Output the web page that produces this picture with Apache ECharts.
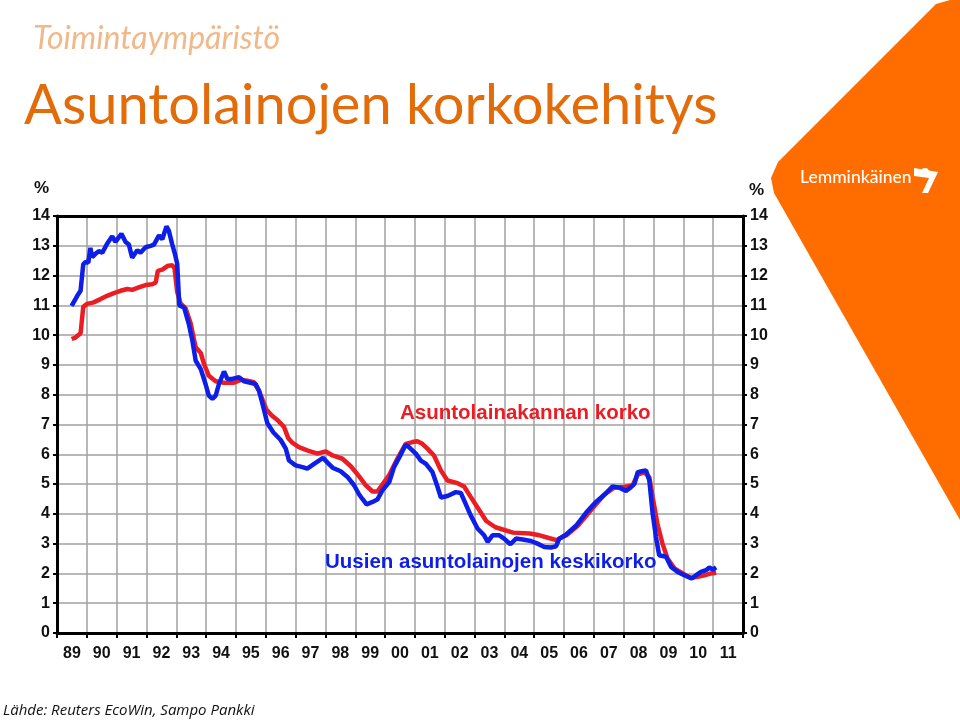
<!DOCTYPE html>
<html>
<head>
<meta charset="utf-8">
<script src="https://cdn.jsdelivr.net/npm/echarts@6/dist/echarts.min.js"></script>
<style>
  html, body { margin: 0; padding: 0; background: #fff; }
  #chart { width: 960px; height: 721px; }
</style>
</head>
<body>
<div id="chart"></div>
<script>
// vuodet x-akselilla (89 ... 11)
const yearLabels = ['89', '90', '91', '92', '93', '94', '95', '96', '97', '98', '99', '00',
    '01', '02', '03', '04', '05', '06', '07', '08', '09', '10', '11'];
const yTicks = [0, 1, 2, 3, 4, 5, 6, 7, 8, 9, 10, 11, 12, 13, 14];

// Asuntolainakannan korko [vuosi, %]
const stockRate = [
    [1989.49, 9.87], [1989.62, 9.92], [1989.79, 10.06], [1989.88, 10.95], [1990.01, 11.05],
    [1990.23, 11.10], [1990.46, 11.21], [1990.68, 11.32], [1990.91, 11.41], [1991.13, 11.49],
    [1991.36, 11.55], [1991.52, 11.52], [1991.74, 11.60], [1991.97, 11.68], [1992.19, 11.71],
    [1992.31, 11.77], [1992.38, 12.16], [1992.53, 12.20], [1992.70, 12.32], [1992.86, 12.35],
    [1992.94, 12.25], [1993.03, 11.45], [1993.14, 11.07], [1993.31, 10.90], [1993.48, 10.40],
    [1993.65, 9.59], [1993.82, 9.40], [1993.93, 9.03], [1994.09, 8.64], [1994.32, 8.45],
    [1994.60, 8.40], [1994.93, 8.40], [1995.16, 8.50], [1995.38, 8.47], [1995.60, 8.42],
    [1995.77, 8.14], [1996.02, 7.50], [1996.20, 7.30], [1996.39, 7.15], [1996.61, 6.92],
    [1996.75, 6.55], [1996.90, 6.38], [1997.11, 6.24], [1997.39, 6.13], [1997.73, 6.02],
    [1998.01, 6.10], [1998.24, 5.96], [1998.57, 5.85], [1998.85, 5.60], [1999.13, 5.26],
    [1999.35, 4.96], [1999.58, 4.75], [1999.74, 4.75], [1999.85, 4.90], [2000.13, 5.29],
    [2000.41, 5.85], [2000.69, 6.35], [2000.92, 6.41], [2001.08, 6.44], [2001.25, 6.35],
    [2001.42, 6.19], [2001.64, 5.96], [2001.87, 5.46], [2002.09, 5.12], [2002.43, 5.03],
    [2002.65, 4.92], [2002.87, 4.57], [2003.16, 4.12], [2003.39, 3.76], [2003.70, 3.55],
    [2004.29, 3.37], [2004.85, 3.34], [2005.18, 3.28], [2005.52, 3.18], [2005.75, 3.12],
    [2006.08, 3.28], [2006.46, 3.60], [2006.90, 4.12], [2007.35, 4.65], [2007.68, 4.88],
    [2008.02, 4.90], [2008.30, 4.96], [2008.47, 5.32], [2008.69, 5.40], [2008.86, 5.23],
    [2008.97, 4.57], [2009.13, 3.67], [2009.30, 3.00], [2009.47, 2.50], [2009.70, 2.17],
    [2009.98, 2.00], [2010.26, 1.85], [2010.48, 1.89], [2010.71, 1.94], [2010.93, 2.00],
    [2011.10, 2.02]
];

// Uusien asuntolainojen keskikorko [vuosi, %]
const newLoanRate = [
    [1989.49, 10.98], [1989.68, 11.32], [1989.79, 11.49], [1989.88, 12.38], [1989.96, 12.46],
    [1990.05, 12.43], [1990.12, 12.93], [1990.18, 12.62], [1990.29, 12.73], [1990.40, 12.82],
    [1990.52, 12.77], [1990.68, 13.07], [1990.85, 13.32], [1990.96, 13.13], [1991.16, 13.40],
    [1991.30, 13.13], [1991.41, 13.04], [1991.52, 12.60], [1991.69, 12.85], [1991.80, 12.77],
    [1991.97, 12.95], [1992.14, 13.00], [1992.25, 13.04], [1992.42, 13.35], [1992.53, 13.22],
    [1992.67, 13.65], [1992.75, 13.50], [1992.86, 13.06], [1992.96, 12.70], [1993.03, 12.40],
    [1993.10, 11.00], [1993.26, 10.93], [1993.42, 10.37], [1993.54, 9.81], [1993.65, 9.14],
    [1993.82, 8.86], [1993.98, 8.36], [1994.09, 7.97], [1994.21, 7.86], [1994.32, 7.97],
    [1994.43, 8.36], [1994.60, 8.78], [1994.71, 8.53], [1994.88, 8.53], [1995.10, 8.59],
    [1995.27, 8.45], [1995.49, 8.40], [1995.66, 8.36], [1995.77, 8.14], [1995.89, 7.69],
    [1996.05, 7.05], [1996.25, 6.74], [1996.50, 6.48], [1996.67, 6.19], [1996.78, 5.79],
    [1997.00, 5.63], [1997.23, 5.57], [1997.39, 5.52], [1997.62, 5.68], [1997.92, 5.88],
    [1998.07, 5.72], [1998.24, 5.55], [1998.51, 5.43], [1998.74, 5.24], [1998.96, 4.96],
    [1999.13, 4.65], [1999.24, 4.50], [1999.38, 4.32], [1999.58, 4.40], [1999.74, 4.48],
    [1999.91, 4.79], [2000.14, 5.07], [2000.30, 5.57], [2000.51, 5.96], [2000.69, 6.32],
    [2000.80, 6.24], [2001.03, 6.02], [2001.20, 5.79], [2001.37, 5.68], [2001.59, 5.40],
    [2001.76, 4.90], [2001.87, 4.55], [2002.09, 4.60], [2002.37, 4.73], [2002.54, 4.70],
    [2002.65, 4.45], [2002.87, 3.95], [2003.10, 3.51], [2003.32, 3.28], [2003.44, 3.06],
    [2003.60, 3.28], [2003.83, 3.28], [2003.99, 3.17], [2004.20, 2.98], [2004.39, 3.17],
    [2004.61, 3.14], [2004.89, 3.09], [2005.11, 3.00], [2005.34, 2.89], [2005.56, 2.87],
    [2005.73, 2.91], [2005.84, 3.17], [2006.06, 3.30], [2006.40, 3.60], [2006.75, 4.05],
    [2007.05, 4.38], [2007.35, 4.64], [2007.63, 4.92], [2007.85, 4.88], [2008.08, 4.77],
    [2008.19, 4.85], [2008.36, 5.01], [2008.47, 5.40], [2008.64, 5.44], [2008.75, 5.46],
    [2008.86, 5.12], [2008.97, 4.01], [2009.08, 3.23], [2009.19, 2.61], [2009.42, 2.56],
    [2009.59, 2.22], [2009.81, 2.05], [2010.03, 1.94], [2010.28, 1.83], [2010.43, 1.94],
    [2010.59, 2.05], [2010.76, 2.11], [2010.87, 2.20], [2010.99, 2.13], [2011.10, 2.20]
];

const RED = '#ec1c24';
const BLUE = '#0d1ee8';
const axisFont = { fontFamily: 'Liberation Sans', fontWeight: 'bold', fontSize: 16, color: '#111' };

const chart = echarts.init(document.getElementById('chart'));

const yAxisBase = {
    type: 'value',
    min: yTicks[0],
    max: yTicks[yTicks.length - 1],
    interval: 1,
    axisLine: { show: true, lineStyle: { color: '#000', width: 3 } },
    axisTick: { show: true, length: 4, lineStyle: { color: '#000', width: 2 } },
    axisLabel: Object.assign({ margin: 7 }, axisFont)
};

const options = {
    animation: false,
    backgroundColor: '#fff',
    grid: { left: 57, right: 217, top: 216, bottom: 88, containLabel: false },
    xAxis: [
        {
            type: 'category',
            data: yearLabels,
            boundaryGap: true,
            position: 'bottom',
            axisLine: { lineStyle: { color: '#000', width: 3 } },
            axisTick: { show: true, length: 5, lineStyle: { color: '#000', width: 2 } },
            axisLabel: Object.assign({ interval: 0, margin: 13 }, axisFont),
            splitLine: { show: true, interval: 0, lineStyle: { color: '#a0a0a0', width: 1.5 } }
        },
        {
            // numeerinen aika-akseli viivoille, näkyy vain yläreunan viivana
            type: 'value',
            min: 1989,
            max: 2012,
            position: 'top',
            axisLine: { show: true, onZero: false, lineStyle: { color: '#000', width: 3 } },
            axisTick: { show: false },
            axisLabel: { show: false },
            splitLine: { show: false }
        }
    ],
    yAxis: [
        Object.assign({}, yAxisBase, {
            position: 'left',
            splitLine: { show: true, lineStyle: { color: '#a0a0a0', width: 1.5 } }
        }),
        Object.assign({}, yAxisBase, {
            position: 'right',
            splitLine: { show: false }
        })
    ],
    series: [
        {
            name: 'Asuntolainakannan korko',
            type: 'line',
            xAxisIndex: 1,
            yAxisIndex: 0,
            data: stockRate,
            showSymbol: false,
            lineStyle: { color: RED, width: 4.5 },
            z: 3
        },
        {
            name: 'Uusien asuntolainojen keskikorko',
            type: 'line',
            xAxisIndex: 1,
            yAxisIndex: 0,
            data: newLoanRate,
            showSymbol: false,
            lineStyle: { color: BLUE, width: 4.5 },
            z: 4
        }
    ],
    graphic: [
        // oranssi kulmakuvio
        {
            type: 'polygon',
            shape: {
                points: [[960, 0], [950, 0], [936, 4], [926, 14], [778, 162], [771, 178],
                    [774, 193], [960, 520]]
            },
            style: { fill: '#ff6d00' },
            z: 0
        },
        {
            type: 'text',
            left: 800, top: 168,
            style: { text: 'Lemminkäinen', fill: '#fff', font: '500 17.5px Lato' },
            z: 10
        },
        {
            type: 'polygon',
            shape: { points: [[914, 168], [938, 172], [928, 193], [922, 193], [929, 178], [914, 176]] },
            style: { fill: '#fff' },
            z: 10
        },
        {
            type: 'circle',
            shape: { cx: 925, cy: 172, r: 4 },
            style: { fill: '#fff' },
            z: 10
        },
        // otsikot
        {
            type: 'text',
            left: 33, top: 23,
            style: { text: 'Toimintaympäristö', fill: '#f1b88a', font: 'italic 32px Lato' },
            z: 10
        },
        {
            type: 'text',
            left: 24, top: 78,
            style: { text: 'Asuntolainojen korkokehitys', fill: '#e36c0a', font: '56px Lato' },
            z: 10
        },
        {
            type: 'text',
            left: 34, top: 180,
            style: { text: '%', fill: '#111', font: 'bold 17px "Liberation Sans"' },
            z: 10
        },
        {
            type: 'text',
            left: 749, top: 182,
            style: { text: '%', fill: '#111', font: 'bold 17px "Liberation Sans"' },
            z: 10
        },
        // sarjojen nimet
        {
            type: 'text',
            left: 400, top: 403,
            style: { text: 'Asuntolainakannan korko', fill: RED, font: 'bold 20.5px "Liberation Sans"' },
            z: 10
        },
        {
            type: 'text',
            left: 325, top: 552,
            style: { text: 'Uusien asuntolainojen keskikorko', fill: BLUE, font: 'bold 20.5px "Liberation Sans"' },
            z: 10
        },
        {
            type: 'text',
            left: 3, top: 703,
            style: { text: 'Lähde: Reuters EcoWin, Sampo Pankki', fill: '#111', font: 'italic 15px "Open Sans"' },
            z: 10
        }
    ]
};

chart.setOption(options);
</script>
</body>
</html>
